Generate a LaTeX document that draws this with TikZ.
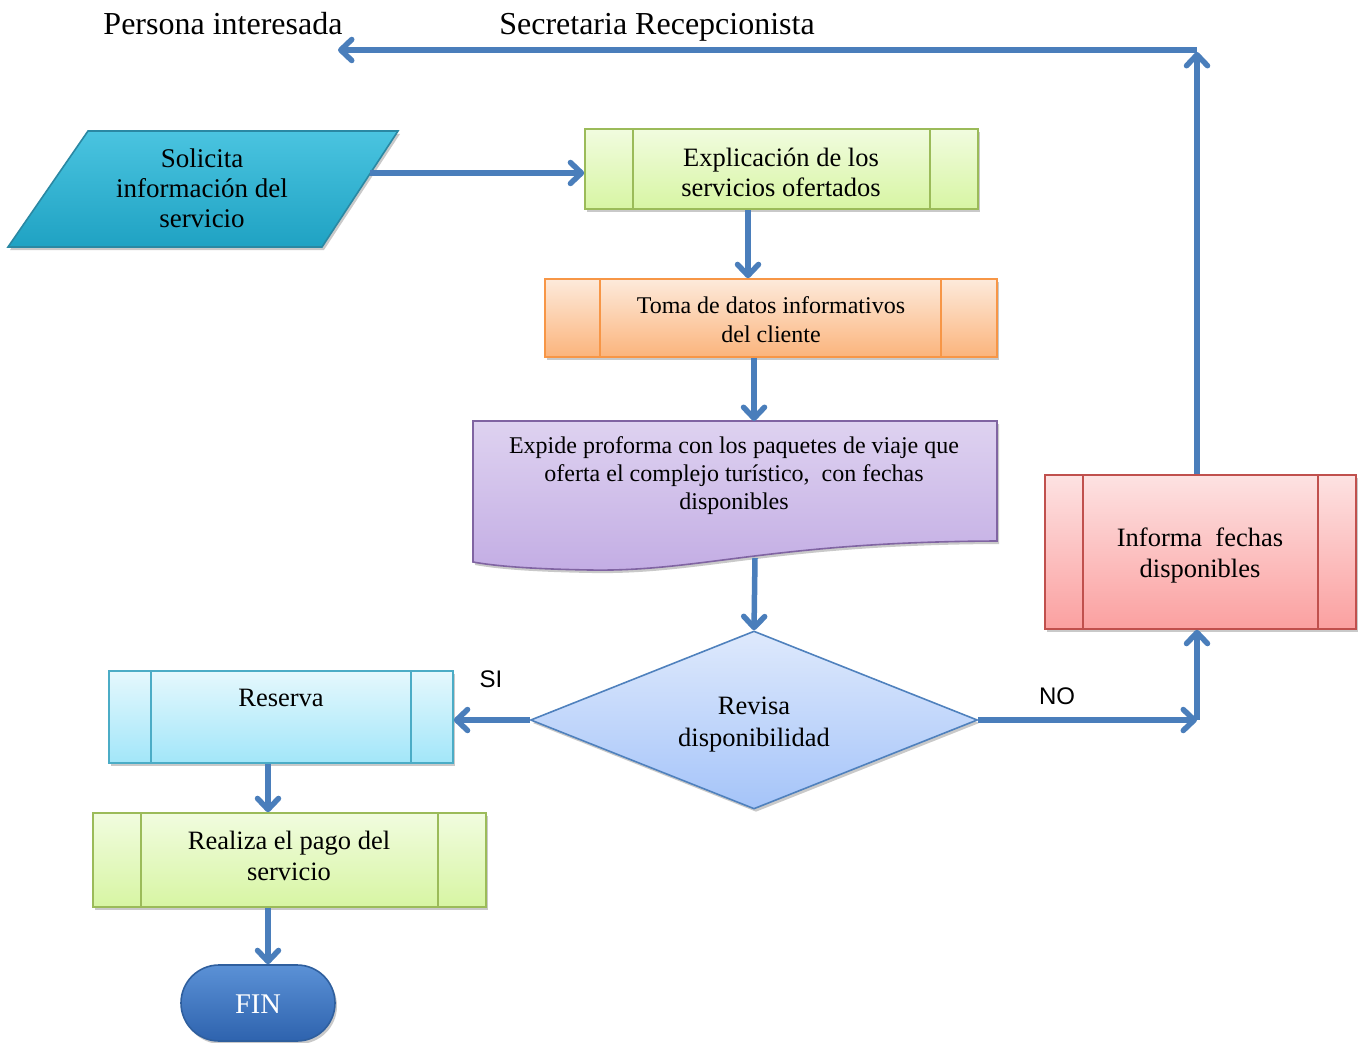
\documentclass[tikz,border=0pt]{standalone}
\usepackage{fontspec}
\setmainfont{Liberation Serif}
\newfontfamily\lsans{Liberation Sans}
\usetikzlibrary{arrows.meta,shapes.geometric,shadows}

\definecolor{arrowblue}{HTML}{4A7EBB}
\definecolor{grnT}{HTML}{F1FCDF}\definecolor{grnB}{HTML}{D7F5A3}\definecolor{grnD}{HTML}{9BBB59}
\definecolor{orT}{HTML}{FDEADB}\definecolor{orB}{HTML}{FBB47C}\definecolor{orD}{HTML}{F79646}
\definecolor{puT}{HTML}{DED2F0}\definecolor{puB}{HTML}{C3ADE4}\definecolor{puD}{HTML}{8064A2}
\definecolor{blT}{HTML}{DEE9FC}\definecolor{blB}{HTML}{A5C4F9}\definecolor{blD}{HTML}{4F81BD}
\definecolor{rdT}{HTML}{FDE2E2}\definecolor{rdB}{HTML}{FBA0A0}\definecolor{rdD}{HTML}{C0504D}
\definecolor{cyT}{HTML}{E5F8FD}\definecolor{cyB}{HTML}{A2E6F9}\definecolor{cyD}{HTML}{4BACC6}
\definecolor{tqT}{HTML}{4AC4E0}\definecolor{tqB}{HTML}{1FA2C3}\definecolor{tqD}{HTML}{2A88A3}
\definecolor{fnT}{HTML}{5B91D6}\definecolor{fnB}{HTML}{2E63AE}\definecolor{fnD}{HTML}{2F5F9E}

\tikzset{
  arr/.style={draw=arrowblue, line width=5.5pt,
    -{Straight Barb[length=11pt,width=21pt,round]}},
  shad/.style={drop shadow={shadow xshift=2pt,shadow yshift=-3pt,opacity=0.3,fill=black!70}},
  procbox/.style={rectangle, shad, line width=1.6pt, inner sep=0pt},
  txt/.style={align=center, inner sep=0pt, text=black},
  ttl/.style={inner sep=0pt, anchor=base, font=\fontsize{32}{36}\selectfont},
  yesno/.style={txt, font=\lsans\fontsize{24}{28}\selectfont}
}

\begin{document}
\begin{tikzpicture}[x=1pt,y=-1pt]
\useasboundingbox (0,0) rectangle (1365,1043);

% headings
\node[ttl] (hp) at (223,35) {Persona interesada};
\node[ttl] (hs) at (657,35) {Secretaria Recepcionista};

% input parallelogram
\path[shad, draw=tqD, line width=1.6pt, top color=tqT, bottom color=tqB]
  (88,131) -- (398,131) -- (322,247) -- (8,247) -- cycle;
\coordinate (solR) at (370,173);
\node[txt, font=\fontsize{27}{30}\selectfont] (sol) at (202,188)
  {Solicita\\información del\\servicio};

% process boxes with side bars
\node[procbox, draw=grnD, top color=grnT, bottom color=grnB,
  minimum width=393pt, minimum height=80pt] (exp) at (781.5,169) {};
\draw[grnD, line width=1.6pt] ([xshift=49pt]exp.north west) -- ([xshift=49pt]exp.south west)
  ([xshift=-49pt]exp.north east) -- ([xshift=-49pt]exp.south east);
\node[txt, font=\fontsize{26.5}{30}\selectfont] (expt) at (781,172)
  {Explicación de los\\servicios ofertados};

\node[procbox, draw=orD, top color=orT, bottom color=orB,
  minimum width=452pt, minimum height=78pt] (toma) at (771,318) {};
\draw[orD, line width=1.6pt] ([xshift=56pt]toma.north west) -- ([xshift=56pt]toma.south west)
  ([xshift=-57pt]toma.north east) -- ([xshift=-57pt]toma.south east);
\node[txt, font=\fontsize{24}{29}\selectfont] (tomat) at (771,320)
  {Toma de datos informativos\\del cliente};

% document shape
\path[shad, draw=puD, line width=1.6pt, top color=puT, bottom color=puB]
  (473,421) -- (997,421) -- (997,541)
  .. controls (770,542) and (700,572) .. (590,570)
  .. controls (530,569) and (495,566) .. (473,562) -- cycle;
\coordinate (docT) at (754,421);
\coordinate (docB) at (755,558);
\node[txt, font=\fontsize{24}{28}\selectfont] (doct) at (734,476)
  {Expide proforma con los paquetes de viaje que\\oferta el complejo turístico,\ \ con fechas\\disponibles};

% decision
\node[diamond, shad, draw=blD, line width=1.6pt, top color=blT, bottom color=blB,
  minimum width=447pt, minimum height=178pt, aspect=2.5, inner sep=0pt] (dia) at (754,720) {};
\node[txt, font=\fontsize{26.5}{32}\selectfont] (diat) at (754,725)
  {Revisa\\disponibilidad};

\node[procbox, draw=rdD, top color=rdT, bottom color=rdB,
  minimum width=311pt, minimum height=154pt] (inf) at (1200.5,552) {};
\draw[rdD, line width=1.6pt] ([xshift=39pt]inf.north west) -- ([xshift=39pt]inf.south west)
  ([xshift=-39pt]inf.north east) -- ([xshift=-39pt]inf.south east);
\node[txt, font=\fontsize{26.5}{31}\selectfont] (inft) at (1200,555)
  {Informa\ \ fechas\\disponibles};

\node[procbox, draw=cyD, top color=cyT, bottom color=cyB,
  minimum width=344pt, minimum height=92pt] (res) at (281,717) {};
\draw[cyD, line width=1.6pt] ([xshift=43pt]res.north west) -- ([xshift=43pt]res.south west)
  ([xshift=-43pt]res.north east) -- ([xshift=-43pt]res.south east);
\node[txt, font=\fontsize{26.5}{31}\selectfont] (rest) at (281,698) {Reserva};

\node[procbox, draw=grnD, top color=grnT, bottom color=grnB,
  minimum width=393pt, minimum height=94pt] (pay) at (289.5,860) {};
\draw[grnD, line width=1.6pt] ([xshift=49pt]pay.north west) -- ([xshift=49pt]pay.south west)
  ([xshift=-49pt]pay.north east) -- ([xshift=-49pt]pay.south east);
\node[txt, font=\fontsize{26.5}{31}\selectfont] (payt) at (289,856)
  {Realiza el pago del\\servicio};

% terminator
\node[rectangle, rounded corners=38pt, shad, draw=fnD, line width=1.6pt,
  top color=fnT, bottom color=fnB, minimum width=154pt, minimum height=76pt,
  inner sep=0pt] (fin) at (258,1003) {};
\node[txt, text=white, font=\fontsize{28.5}{32}\selectfont] (fint) at (258,1004) {FIN};

% routing points
\coordinate (xE) at (748,0);
\coordinate (xT) at (754,0);
\coordinate (xL) at (268,0);
\coordinate (nr) at (1197,720);
\coordinate (tr) at (1197,50);
\coordinate (tl) at (338,50);

% connectors
\draw[arr] (solR) -- (exp.west |- solR);
\draw[arr] (exp.south -| xE) -- (toma.north -| xE);
\draw[arr] (toma.south -| xT) -- (docT);
\draw[arr] (docB) -- (dia.north);
\draw[arr] (dia.west) -- (res.east |- dia.west);
\draw[arr] (dia.east) -- (nr);
\draw[arr] (nr) -- (inf.south -| nr);
\draw[arr] (inf.north -| nr) -- ([yshift=-2pt]tr);
\draw[arr] (tr) -- (tl);
\draw[arr] (res.south -| xL) -- (pay.north -| xL);
\draw[arr] (pay.south -| xL) -- (fin.north -| xL);

% branch labels
\node[yesno] (si) at (491,679) {SI};
\node[yesno] (no) at (1057,696) {NO};
\end{tikzpicture}
\end{document}
